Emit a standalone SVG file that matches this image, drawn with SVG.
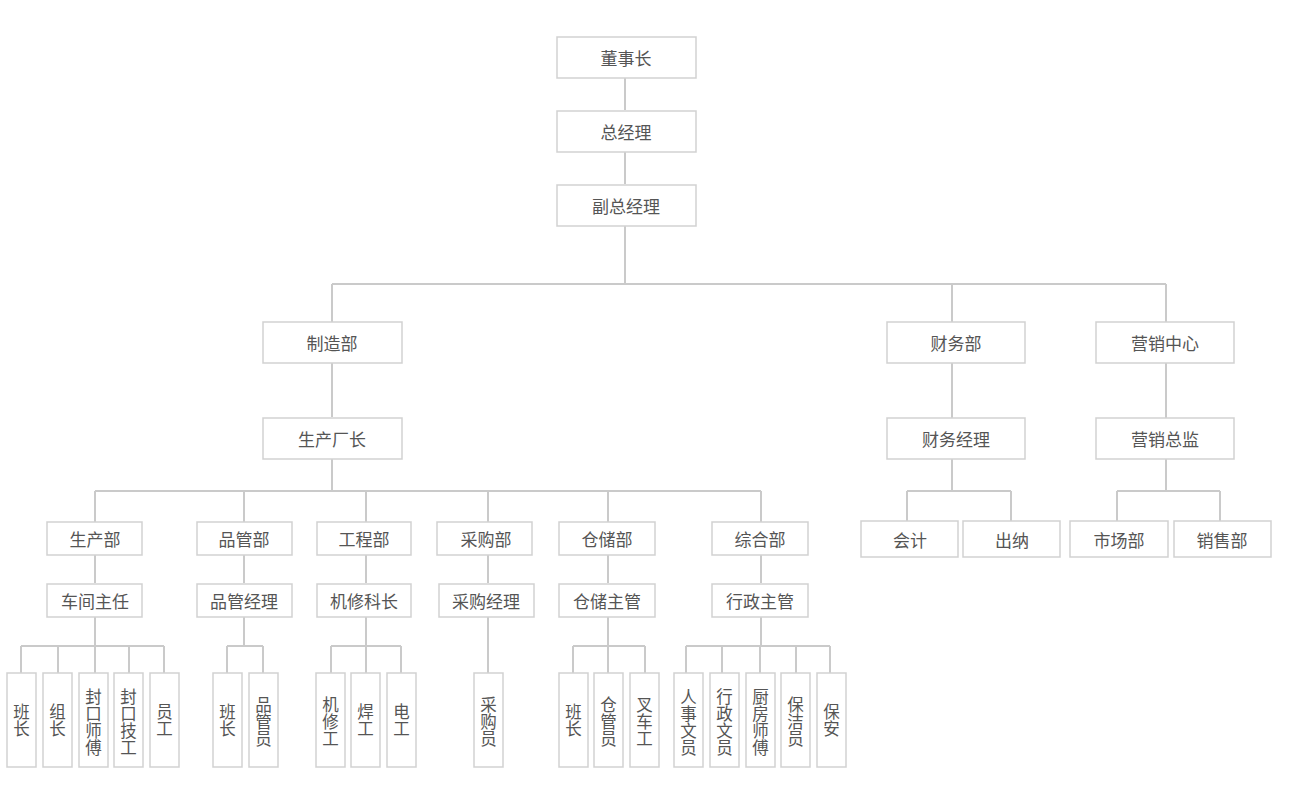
<svg xmlns="http://www.w3.org/2000/svg" width="1300" height="798" viewBox="0 0 1300 798">
<style>
.b{fill:#fff;stroke:#d2d2d2;stroke-width:1.5}
.t{font-family:"Noto Sans CJK SC","Noto Sans",sans-serif;font-size:17px;fill:#555;text-anchor:middle;dominant-baseline:central}
.v{font-family:"Noto Sans CJK SC","Noto Sans",sans-serif;font-size:16.5px;fill:#555;text-anchor:middle;writing-mode:vertical-rl;letter-spacing:0.5px;dominant-baseline:central}
.c{fill:none;stroke:#cacaca;stroke-width:2}
</style>
<rect width="1300" height="798" fill="#fff"/>
<g id="connectors" class="c">
<path d="M625 78V110M625 152V184M625 226V284M332 284H1166M332 284V322M952 284V322M1166 284V322"/>
<path d="M332 363V417M952 363V418M1166 363V418"/>
<path d="M332 459V491M95 491H761M95 491V522M244 491V522M366 491V522M488 491V522M608 491V522M761 491V522"/>
<path d="M952 459V491M907 491H1011M907 491V521M1011 491V521"/>
<path d="M1166 459V491M1117 491H1220M1117 491V521M1220 491V521"/>
<path d="M95 555V583M244 555V583M366 555V583M488 555V583M608 555V583M761 555V583"/>
<path d="M95 617V646M21 646H164M21 646V673M58 646V673M95 646V673M129 646V673M164 646V673"/>
<path d="M244 617V646M227 646H263M227 646V673M263 646V673"/>
<path d="M366 617V646M331 646H401M331 646V673M366 646V673M401 646V673"/>
<path d="M488 617V673"/>
<path d="M608 617V646M573 646H645M573 646V673M608 646V673M645 646V673"/>
<path d="M761 617V646M686 646H830M686 646V673M722 646V673M760 646V673M796 646V673M830 646V673"/>
</g>
<g id="n-dongshizhang"><rect class="b" x="557" y="37" width="139" height="41"/><text class="t" x="626" y="57.5">董事长</text></g>
<g id="n-zongjingli"><rect class="b" x="557" y="111" width="139" height="41"/><text class="t" x="626" y="131.5">总经理</text></g>
<g id="n-fuzongjingli"><rect class="b" x="557" y="185" width="139" height="41"/><text class="t" x="626" y="205.5">副总经理</text></g>
<g id="n-zhizaobu"><rect class="b" x="263" y="322" width="139" height="41"/><text class="t" x="332" y="342.5">制造部</text></g>
<g id="n-caiwubu"><rect class="b" x="887" y="322" width="138" height="41"/><text class="t" x="956" y="342.5">财务部</text></g>
<g id="n-yingxiao"><rect class="b" x="1096" y="322" width="138" height="41"/><text class="t" x="1165" y="342.5">营销中心</text></g>
<g id="n-changzhang"><rect class="b" x="263" y="418" width="139" height="41"/><text class="t" x="332" y="438.5">生产厂长</text></g>
<g id="n-caiwujingli"><rect class="b" x="887" y="418" width="138" height="41"/><text class="t" x="956" y="438.5">财务经理</text></g>
<g id="n-yingxiaozongjian"><rect class="b" x="1096" y="418" width="138" height="41"/><text class="t" x="1165" y="438.5">营销总监</text></g>
<g id="n-kuaiji"><rect class="b" x="861" y="521" width="97" height="36"/><text class="t" x="910" y="539">会计</text></g>
<g id="n-chuna"><rect class="b" x="963" y="521" width="97" height="36"/><text class="t" x="1012" y="539">出纳</text></g>
<g id="n-shichang"><rect class="b" x="1070" y="521" width="98" height="36"/><text class="t" x="1119" y="539">市场部</text></g>
<g id="n-xiaoshou"><rect class="b" x="1174" y="521" width="97" height="36"/><text class="t" x="1222" y="539">销售部</text></g>
<g id="n-shengchanbu"><rect class="b" x="47" y="522" width="95" height="33"/><text class="t" x="95" y="538.5">生产部</text></g>
<g id="n-pinguanbu"><rect class="b" x="197" y="522" width="95" height="33"/><text class="t" x="244" y="538.5">品管部</text></g>
<g id="n-gongchengbu"><rect class="b" x="317" y="522" width="94" height="33"/><text class="t" x="364" y="538.5">工程部</text></g>
<g id="n-caigoubu"><rect class="b" x="437" y="522" width="95" height="33"/><text class="t" x="486" y="538.5">采购部</text></g>
<g id="n-cangchubu"><rect class="b" x="559" y="522" width="96" height="33"/><text class="t" x="607" y="538.5">仓储部</text></g>
<g id="n-zonghebu"><rect class="b" x="712" y="522" width="96" height="33"/><text class="t" x="760" y="538.5">综合部</text></g>
<g id="n-chejian"><rect class="b" x="47" y="584" width="95" height="33"/><text class="t" x="95" y="600.5">车间主任</text></g>
<g id="n-pinguanjingli"><rect class="b" x="197" y="584" width="95" height="33"/><text class="t" x="244" y="600.5">品管经理</text></g>
<g id="n-jixiukezhang"><rect class="b" x="317" y="584" width="94" height="33"/><text class="t" x="364" y="600.5">机修科长</text></g>
<g id="n-caigoujingli"><rect class="b" x="439" y="584" width="95" height="33"/><text class="t" x="486" y="600.5">采购经理</text></g>
<g id="n-cangchuzhuguan"><rect class="b" x="559" y="584" width="96" height="33"/><text class="t" x="607" y="600.5">仓储主管</text></g>
<g id="n-xingzhengzhuguan"><rect class="b" x="712" y="584" width="96" height="33"/><text class="t" x="760" y="600.5">行政主管</text></g>
<g id="l1"><rect class="b" x="7" y="673" width="29" height="94"/><text class="v" x="21.5" y="720">班长</text></g>
<g id="l2"><rect class="b" x="43" y="673" width="29" height="94"/><text class="v" x="57.5" y="720">组长</text></g>
<g id="l3"><rect class="b" x="79" y="673" width="29" height="94"/><text class="v" x="93.5" y="722">封口师傅</text></g>
<g id="l4"><rect class="b" x="114" y="673" width="29" height="94"/><text class="v" x="128.5" y="722">封口技工</text></g>
<g id="l5"><rect class="b" x="150" y="673" width="29" height="94"/><text class="v" x="164.5" y="720">员工</text></g>
<g id="l6"><rect class="b" x="213" y="673" width="29" height="94"/><text class="v" x="227.5" y="720">班长</text></g>
<g id="l7"><rect class="b" x="249" y="673" width="29" height="94"/><text class="v" x="263.5" y="722">品管员</text></g>
<g id="l8"><rect class="b" x="316" y="673" width="29" height="94"/><text class="v" x="330.5" y="722">机修工</text></g>
<g id="l9"><rect class="b" x="351" y="673" width="29" height="94"/><text class="v" x="365.5" y="720">焊工</text></g>
<g id="l10"><rect class="b" x="387" y="673" width="29" height="94"/><text class="v" x="401.5" y="720">电工</text></g>
<g id="l11"><rect class="b" x="474" y="673" width="29" height="94"/><text class="v" x="488.5" y="722">采购员</text></g>
<g id="l12"><rect class="b" x="559" y="673" width="29" height="94"/><text class="v" x="573.5" y="720">班长</text></g>
<g id="l13"><rect class="b" x="594" y="673" width="29" height="94"/><text class="v" x="608.5" y="722">仓管员</text></g>
<g id="l14"><rect class="b" x="630" y="673" width="29" height="94"/><text class="v" x="644.5" y="722">叉车工</text></g>
<g id="l15"><rect class="b" x="674" y="673" width="29" height="94"/><text class="v" x="688.5" y="722">人事文员</text></g>
<g id="l16"><rect class="b" x="710" y="673" width="29" height="94"/><text class="v" x="724.5" y="722">行政文员</text></g>
<g id="l17"><rect class="b" x="746" y="673" width="29" height="94"/><text class="v" x="760.5" y="722">厨房师傅</text></g>
<g id="l18"><rect class="b" x="781" y="673" width="29" height="94"/><text class="v" x="795.5" y="722">保洁员</text></g>
<g id="l19"><rect class="b" x="817" y="673" width="29" height="94"/><text class="v" x="831.5" y="720">保安</text></g>
</svg>
